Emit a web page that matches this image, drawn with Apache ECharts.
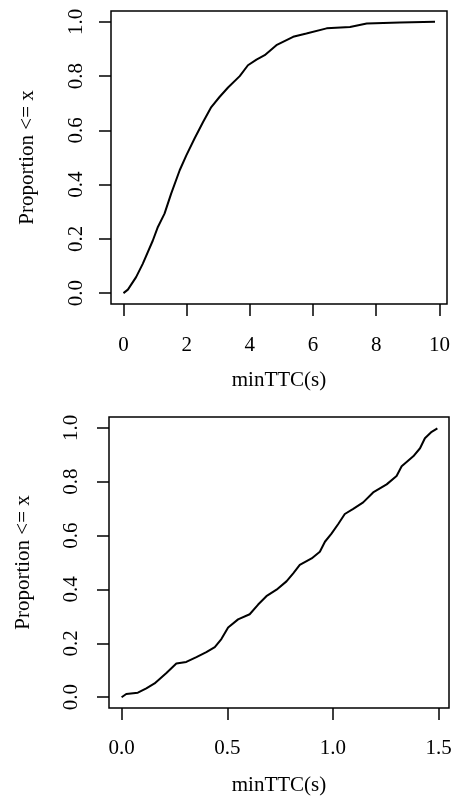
<!DOCTYPE html>
<html>
<head>
<meta charset="utf-8">
<script src="https://cdn.jsdelivr.net/npm/echarts@6/dist/echarts.min.js"></script>
<style>
  html, body { margin: 0; padding: 0; background: #fff; }
  #chart { width: 456px; height: 797px; }
</style>
</head>
<body>
<div id="chart"></div>
<script>
var topX = [0, 0.14, 0.40, 0.61, 0.93, 1.09, 1.30, 1.51, 1.78, 1.99, 2.25, 2.52, 2.78, 3.04, 3.31, 3.68, 3.94, 4.21, 4.47, 4.84, 5.37, 5.79, 6.43, 7.17, 7.70, 8.75, 9.86];
var topY = [0, 0.013, 0.059, 0.108, 0.194, 0.244, 0.293, 0.367, 0.453, 0.508, 0.570, 0.631, 0.686, 0.723, 0.758, 0.800, 0.840, 0.861, 0.877, 0.914, 0.945, 0.957, 0.976, 0.981, 0.994, 0.998, 1.0];

var botX = [0, 0.022, 0.077, 0.117, 0.156, 0.212, 0.259, 0.306, 0.354, 0.401, 0.441, 0.472, 0.504, 0.551, 0.606, 0.646, 0.685, 0.733, 0.780, 0.812, 0.843, 0.899, 0.938, 0.962, 0.993, 1.025, 1.056, 1.096, 1.143, 1.190, 1.254, 1.301, 1.325, 1.380, 1.412, 1.435, 1.467, 1.494];
var botY = [0, 0.012, 0.017, 0.033, 0.051, 0.090, 0.125, 0.131, 0.149, 0.167, 0.186, 0.216, 0.259, 0.289, 0.308, 0.344, 0.375, 0.399, 0.430, 0.460, 0.491, 0.515, 0.540, 0.577, 0.607, 0.643, 0.680, 0.699, 0.723, 0.760, 0.790, 0.821, 0.857, 0.894, 0.924, 0.961, 0.985, 0.998];

var topTicksX = [0, 2, 4, 6, 8, 10];
var botTicksX = [0, 0.5, 1.0, 1.5];
var ticksY = [0, 0.2, 0.4, 0.6, 0.8, 1.0];

var xTitle = 'minTTC(s)';
var yTitle = 'Proportion <= x';

function pairs(xs, ys) {
  var d = [];
  for (var i = 0; i < xs.length; i++) d.push([xs[i], ys[i]]);
  return d;
}

var txt = { color: '#000', fontFamily: 'Liberation Serif', fontSize: 21 };

function xAxisOf(idx, min, max, ticks, dec, margin, gap) {
  return {
    type: 'value', gridIndex: idx, min: min, max: max,
    splitLine: { show: false },
    axisLine: { show: false, onZero: false },
    axisTick: { show: true, length: 12, customValues: ticks, lineStyle: { color: '#000', width: 1.5 } },
    axisLabel: Object.assign({ margin: margin, customValues: ticks,
      formatter: function (v) { return v.toFixed(dec); } }, txt),
    name: xTitle, nameLocation: 'middle', nameGap: gap, nameTextStyle: txt
  };
}

function yAxisOf(idx, margin, gap) {
  return {
    type: 'value', gridIndex: idx, min: -0.04, max: 1.04,
    splitLine: { show: false },
    axisLine: { show: false, onZero: false },
    axisTick: { show: true, length: 12, customValues: ticksY, lineStyle: { color: '#000', width: 1.5 } },
    axisLabel: Object.assign({ margin: margin, rotate: 90, customValues: ticksY,
      formatter: function (v) { return v.toFixed(1); } }, txt),
    name: yTitle, nameLocation: 'middle', nameGap: gap, nameTextStyle: txt
  };
}

var chart = echarts.init(document.getElementById('chart'));
chart.setOption({
  backgroundColor: '#fff',
  animation: false,
  grid: [
    { left: 111, top: 11, width: 336, height: 293, show: true, borderColor: '#000', borderWidth: 1.5, backgroundColor: 'transparent' },
    { left: 109, top: 417, width: 340, height: 295, show: true, borderColor: '#000', borderWidth: 1.5, backgroundColor: 'transparent' }
  ],
  xAxis: [
    xAxisOf(0, -0.394, 10.24, topTicksX, 0, 31, 66),
    xAxisOf(1, -0.0596, 1.549, botTicksX, 1, 30, 67)
  ],
  yAxis: [
    yAxisOf(0, 24, 73),
    yAxisOf(1, 27, 75)
  ],
  series: [
    { type: 'line', xAxisIndex: 0, yAxisIndex: 0, data: pairs(topX, topY), showSymbol: false,
      lineStyle: { color: '#000', width: 2 } },
    { type: 'line', xAxisIndex: 1, yAxisIndex: 1, data: pairs(botX, botY), showSymbol: false,
      lineStyle: { color: '#000', width: 2 } }
  ]
});
</script>
</body>
</html>
